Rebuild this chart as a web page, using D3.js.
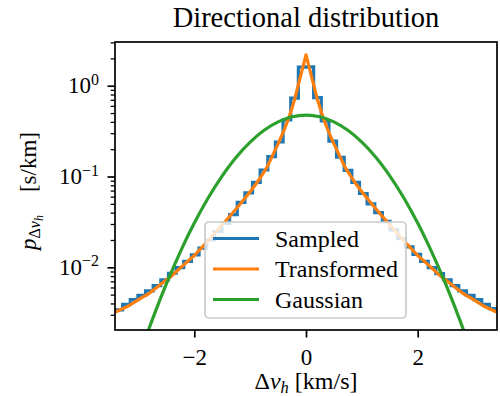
<!DOCTYPE html>
<html>
<head>
<meta charset="utf-8">
<script src="https://cdn.jsdelivr.net/npm/d3@7"></script>
<style>
  body { margin: 0; background: #fff; }
  text { font-family: "Liberation Serif", "DejaVu Serif", serif; fill: #000; }
</style>
</head>
<body>
<svg id="chart" width="500" height="396"></svg>
<script>
//histogram of the sampled velocities: 50 bins from -3.42 to 3.42
let binCount = 50,
	binLo = -3.42,
	binHi = 3.42;

let sampledP = [0.0034, 0.0039, 0.0044, 0.0049, 0.0055, 0.0063, 0.0073, 0.0086, 0.0099, 0.0116,
	0.0137, 0.0163, 0.0200, 0.0248, 0.0305, 0.0380, 0.052, 0.066, 0.086, 0.118,
	0.166, 0.24, 0.42, 0.73, 1.60,
	1.61, 0.74, 0.41, 0.245, 0.163, 0.117, 0.086, 0.065, 0.050, 0.040,
	0.032, 0.0258, 0.0207, 0.0168, 0.0139, 0.0116, 0.0099, 0.0085, 0.0073, 0.0063,
	0.0055, 0.0049, 0.0044, 0.0039, 0.0035];

//transformed density
let transX = [-3.42, -3.2, -3.0, -2.8, -2.6, -2.4, -2.2, -2.0, -1.8, -1.6, -1.4, -1.2, -1.0, -0.9, -0.8, -0.7, -0.6, -0.5, -0.4, -0.3, -0.2, -0.1, 0,
	0.1, 0.2, 0.3, 0.4, 0.5, 0.6, 0.7, 0.8, 0.9, 1.0, 1.2, 1.4, 1.6, 1.8, 2.0, 2.2, 2.4, 2.6, 2.8, 3.0, 3.2, 3.42];
let transP = [0.0032, 0.0037, 0.0044, 0.0052, 0.0065, 0.0081, 0.0105, 0.0135, 0.0182, 0.0251, 0.0345, 0.048, 0.068, 0.082, 0.101, 0.126, 0.170, 0.229, 0.316, 0.457, 0.72, 1.26, 2.19,
	1.26, 0.72, 0.457, 0.316, 0.229, 0.170, 0.126, 0.101, 0.082, 0.068, 0.048, 0.0345, 0.0251, 0.0182, 0.0135, 0.0105, 0.0081, 0.0065, 0.0052, 0.0044, 0.0037, 0.0032];

//gaussian fit
let gaussX = [-3.0, -2.75, -2.5, -2.25, -2.0, -1.75, -1.5, -1.25, -1.0, -0.75, -0.5, -0.25, 0,
	0.25, 0.5, 0.75, 1.0, 1.25, 1.5, 1.75, 2.0, 2.25, 2.5, 2.75, 3.0];
let gaussP = [0.00100, 0.00267, 0.00657, 0.0148, 0.0307, 0.0583, 0.1017, 0.163, 0.239, 0.323, 0.400, 0.455, 0.475,
	0.455, 0.400, 0.323, 0.239, 0.163, 0.1017, 0.0583, 0.0307, 0.0148, 0.00657, 0.00267, 0.00100];

let xTicks = [-2, 0, 2],
	yMajor = [0.01, 0.1, 1],
	yMajorExp = ["\u22122", "\u22121", "0"];

let legendNames = ["Sampled", "Transformed", "Gaussian"],
	colors = ["#1f77b4", "#ff7f0e", "#2ca02c"];

let svg = d3.select("#chart"),
	margin = {top: 42, right: 3, bottom: 66, left: 115},
	width = svg.attr("width") - margin.left - margin.right,
	height = svg.attr("height") - margin.top - margin.bottom,
	g = svg.append("g").attr("transform", "translate(" + margin.left + "," + margin.top + ")");

//define scales
let x = d3.scaleLinear().domain([binLo, binHi]).range([0, width]),
	y = d3.scaleLog().domain([0.00204, 3.03]).range([height, 0]);

//clip the curves to the axes box
svg.append("defs").append("clipPath").attr("id", "clip")
	.append("rect").attr("width", width).attr("height", height);

let plot = g.append("g").attr("clip-path", "url(#clip)");

//step outline of the histogram
let binWidth = (binHi - binLo) / binCount;
let stepPts = sampledP.flatMap(function(v, i) {
	return [[binLo + i * binWidth, v], [binLo + (i + 1) * binWidth, v]];
});

let line = d3.line()
	.x(function(d) { return x(d[0]); })
	.y(function(d) { return y(d[1]); });

plot.append("path")
	.datum(stepPts)
	.attr("d", line)
	.attr("fill", "none")
	.attr("stroke", colors[0])
	.attr("stroke-width", 3.2);

plot.append("path")
	.datum(d3.zip(transX, transP))
	.attr("d", line)
	.attr("fill", "none")
	.attr("stroke", colors[1])
	.attr("stroke-width", 3.2)
	.attr("stroke-linejoin", "round");

plot.append("path")
	.datum(d3.zip(gaussX, gaussP))
	.attr("d", line.curve(d3.curveCatmullRom))
	.attr("fill", "none")
	.attr("stroke", colors[2])
	.attr("stroke-width", 3.2);

//x axis
let xAxis = g.append("g")
	.attr("transform", "translate(0," + height + ")")
	.call(d3.axisBottom(x).tickValues(xTicks).tickSize(7.5).tickSizeOuter(0).tickPadding(6)
		.tickFormat(function(d) { return d < 0 ? "\u2212" + Math.abs(d) : d; }));
xAxis.select(".domain").remove();
xAxis.selectAll("line").attr("stroke-width", 1.7);
xAxis.selectAll("text").attr("font-size", 23).attr("font-family", "Liberation Serif").attr("dy", "0.95em");

//y axis, minor ticks first
let yMinor = y.ticks().filter(function(d) { return yMajor.indexOf(d) < 0; });
let yMinorAxis = g.append("g")
	.call(d3.axisLeft(y).tickValues(yMinor).tickSize(4.3).tickSizeOuter(0).tickFormat(""));
yMinorAxis.select(".domain").remove();
yMinorAxis.selectAll("line").attr("stroke-width", 1.3);

let yAxis = g.append("g")
	.call(d3.axisLeft(y).tickValues(yMajor).tickSize(7.5).tickSizeOuter(0).tickFormat(""));
yAxis.select(".domain").remove();
yAxis.selectAll("line").attr("stroke-width", 1.7);

//labels like 10^-1 with a raised exponent
yMajor.forEach(function(v, i) {
	let t = g.append("text")
		.attr("x", -16)
		.attr("y", y(v) + 7.5)
		.attr("text-anchor", "end")
		.attr("font-size", 23);
	t.append("tspan").text("10");
	t.append("tspan").attr("dy", -8.5).attr("font-size", 16).text(yMajorExp[i]);
});

//frame
g.append("rect")
	.attr("width", width)
	.attr("height", height)
	.attr("fill", "none")
	.attr("stroke", "#000")
	.attr("stroke-width", 1.7);

//legend
let legend = g.append("g").attr("transform", "translate(" + (205 - margin.left) + "," + (222 - margin.top) + ")");

legend.append("rect")
	.attr("width", 201)
	.attr("height", 96)
	.attr("rx", 4)
	.attr("fill", "#fff")
	.attr("fill-opacity", 0.8)
	.attr("stroke", "#cccccc")
	.attr("stroke-width", 1.7);

legendNames.forEach(function(name, i) {
	let cy = 16.5 + i * 30.5;
	legend.append("line")
		.attr("x1", 8).attr("x2", 54)
		.attr("y1", cy).attr("y2", cy)
		.attr("stroke", colors[i])
		.attr("stroke-width", 3.2);
	legend.append("text")
		.attr("x", 70)
		.attr("y", cy + 8)
		.attr("font-size", 24)
		.text(name);
});

//title
svg.append("text")
	.attr("x", margin.left + width / 2)
	.attr("y", 27)
	.attr("text-anchor", "middle")
	.attr("font-size", 28.5)
	.text("Directional distribution");

//x label: Δv_h [km/s]
let xLabel = svg.append("text")
	.attr("x", margin.left + width / 2)
	.attr("y", 389)
	.attr("text-anchor", "middle")
	.attr("font-size", 24);
xLabel.append("tspan").text("\u0394");
xLabel.append("tspan").attr("font-style", "italic").text("v");
xLabel.append("tspan").attr("font-style", "italic").attr("font-size", 16.5).attr("dy", 4).text("h");
xLabel.append("tspan").attr("dy", -4).text(" [km/s]");

//y label: p_{Δv_h} [s/km]
let yLabel = svg.append("text")
	.attr("transform", "translate(36," + (margin.top + 149) + ") rotate(-90)")
	.attr("text-anchor", "middle")
	.attr("font-size", 23);
yLabel.append("tspan").attr("font-style", "italic").text("p");
yLabel.append("tspan").attr("font-size", 16).attr("dy", 4).text("\u0394");
yLabel.append("tspan").attr("font-size", 16).attr("font-style", "italic").text("v");
yLabel.append("tspan").attr("font-size", 12).attr("font-style", "italic").attr("dy", 3).text("h");
yLabel.append("tspan").attr("dy", -7).text("\u2003[s/km]");
</script>
</body>
</html>
